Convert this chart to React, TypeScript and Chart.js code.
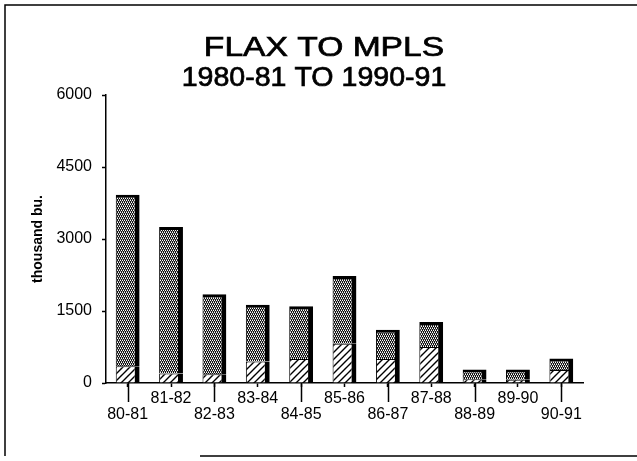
import React, { useEffect, useRef } from "react";
import { Chart, registerables } from "chart.js";

Chart.register(...registerables);

const categories = ["80-81", "81-82", "82-83", "83-84", "84-85", "85-86", "86-87", "87-88", "88-89", "89-90", "90-91"];
const hatchedValues = [350, 200, 180, 450, 500, 820, 500, 750, 80, 70, 270];
const crossValues = [3570, 3050, 1670, 1180, 1100, 1410, 610, 520, 200, 210, 240];
const yTickValues = [0, 1500, 3000, 4500, 6000];
const titleText = "FLAX TO MPLS";
const subtitleText = "1980-81 TO 1990-91";
const yAxisLabel = "thousand bu.";

function makeCrossPattern(ctx: CanvasRenderingContext2D) {
  const c = document.createElement("canvas");
  c.width = 4;
  c.height = 4;
  const g = c.getContext("2d")!;
  g.fillStyle = "#111";
  g.fillRect(0, 0, 4, 4);
  g.fillStyle = "#fff";
  g.fillRect(0, 0, 1, 1);
  g.fillRect(2, 0, 1, 1);
  g.fillRect(1, 2, 1, 1);
  g.fillRect(3, 2, 1, 1);
  g.fillStyle = "#999";
  g.fillRect(1, 1, 1, 1);
  g.fillRect(3, 1, 1, 1);
  g.fillRect(0, 3, 1, 1);
  g.fillRect(2, 3, 1, 1);
  return ctx.createPattern(c, "repeat")!;
}

function makeHatchPattern(ctx: CanvasRenderingContext2D) {
  const s = 7;
  const c = document.createElement("canvas");
  c.width = s;
  c.height = s;
  const g = c.getContext("2d")!;
  g.fillStyle = "#fff";
  g.fillRect(0, 0, s, s);
  g.strokeStyle = "#000";
  g.lineWidth = 1.4;
  g.beginPath();
  g.moveTo(-1, s + 1);
  g.lineTo(s + 1, -1);
  g.moveTo(-1, 1);
  g.lineTo(1, -1);
  g.moveTo(s - 1, s + 1);
  g.lineTo(s + 1, s - 1);
  g.stroke();
  return ctx.createPattern(c, "repeat")!;
}

const decorPlugin = {
  id: "decor",
  beforeDraw(chart: any) {
    const ctx = chart.ctx as CanvasRenderingContext2D;
    ctx.save();
    ctx.fillStyle = "#fff";
    ctx.fillRect(0, 0, chart.width, chart.height);
    // frame
    ctx.strokeStyle = "#000";
    ctx.lineWidth = 1.5;
    ctx.beginPath();
    ctx.moveTo(5, 456);
    ctx.lineTo(5, 5);
    ctx.lineTo(637, 5);
    ctx.moveTo(200, 456);
    ctx.lineTo(637, 456);
    ctx.stroke();
    // titles
    ctx.fillStyle = "#000";
    ctx.strokeStyle = "#000";
    ctx.lineWidth = 0.7;
    ctx.textAlign = "center";
    ctx.textBaseline = "middle";
    ctx.save();
    ctx.translate(324, 48);
    ctx.scale(1.2, 1);
    ctx.font = "28px 'Liberation Sans', Arial, sans-serif";
    ctx.fillText(titleText, 0, 0);
    ctx.strokeText(titleText, 0, 0);
    ctx.restore();
    ctx.save();
    ctx.translate(314, 78);
    ctx.scale(1.02, 1);
    ctx.font = "28px 'Liberation Sans', Arial, sans-serif";
    ctx.fillText(subtitleText, 0, 0);
    ctx.strokeText(subtitleText, 0, 0);
    ctx.restore();
    ctx.restore();
  },
  afterDraw(chart: any) {
    const ctx = chart.ctx as CanvasRenderingContext2D;
    const xs = chart.scales.x;
    const bottom = chart.chartArea.bottom;
    ctx.save();
    ctx.strokeStyle = "#000";
    ctx.lineWidth = 1.5;
    ctx.beginPath();
    categories.forEach((_, i) => {
      if (i % 2 === 0) {
        const px = Math.round(xs.getPixelForValue(i)) + 0.5;
        ctx.moveTo(px, bottom);
        ctx.lineTo(px, bottom + 19);
      }
    });
    ctx.stroke();
    ctx.restore();
  },
};

export default function App() {
  const ref = useRef<HTMLCanvasElement>(null);
  useEffect(() => {
    const canvas = ref.current!;
    const ctx = canvas.getContext("2d")!;
    const cross = makeCrossPattern(ctx);
    const hatch = makeHatchPattern(ctx);
    const chart = new Chart(canvas, {
      type: "bar",
      data: {
        labels: categories,
        datasets: [
          {
            label: "hatched",
            data: hatchedValues,
            backgroundColor: hatch,
            borderColor: "#000",
            borderWidth: { top: 1, right: 5, left: 1, bottom: 0 },
            borderSkipped: false,
            inflateAmount: 0,
            barPercentage: 0.55,
            categoryPercentage: 1,
          },
          {
            label: "cross",
            data: crossValues,
            backgroundColor: cross,
            borderColor: "#000",
            borderWidth: { top: 3, right: 5, left: 1, bottom: 0 },
            borderSkipped: false,
            inflateAmount: 0,
            barPercentage: 0.55,
            categoryPercentage: 1,
          },
        ],
      },
      options: {
        responsive: false,
        animation: false,
        devicePixelRatio: 1,
        layout: { padding: { left: 0, top: 95, right: 54, bottom: 18 } },
        plugins: {
          legend: { display: false },
          tooltip: { enabled: false },
          title: { display: false },
        },
        scales: {
          x: {
            stacked: true,
            grid: {
              display: true,
              drawOnChartArea: false,
              offset: false,
              tickLength: 4,
              tickColor: "#000",
              tickWidth: 1.5,
            },
            border: { display: true, color: "#000", width: 1.5 },
            ticks: {
              autoSkip: false,
              maxRotation: 0,
              minRotation: 0,
              padding: 4,
              color: "#000",
              font: { family: "'Liberation Sans', Arial, sans-serif", size: 16, lineHeight: 1 },
              callback: (_v: any, i: number) => (i % 2 === 0 ? ["", categories[i]] : categories[i]),
            },
            afterFit: (scale: any) => {
              scale.height = 60;
            },
          },
          y: {
            stacked: true,
            min: 0,
            max: 6000,
            afterBuildTicks: (scale: any) => {
              scale.ticks = yTickValues.map((v) => ({ value: v }));
            },
            grid: {
              display: true,
              drawOnChartArea: false,
              tickLength: 4,
              tickColor: "#000",
              tickWidth: 1.5,
            },
            border: { display: true, color: "#000", width: 1.5 },
            ticks: {
              padding: 10,
              color: "#000",
              font: { family: "'Liberation Sans', Arial, sans-serif", size: 16 },
              callback: (v: any) => String(v),
            },
            title: {
              display: true,
              text: yAxisLabel,
              color: "#000",
              font: { family: "'Liberation Sans', Arial, sans-serif", size: 14, weight: "bold" },
              padding: { top: 30, bottom: 0 },
            },
            afterFit: (scale: any) => {
              scale.width = 106;
            },
          },
        },
      },
      plugins: [decorPlugin],
    } as any);
    return () => chart.destroy();
  }, []);
  return (
    <div style={{ position: "absolute", left: 0, top: 0, width: 637, height: 461 }}>
      <canvas ref={ref} width={637} height={461} style={{ display: "block", width: 637, height: 461 }} />
    </div>
  );
}
